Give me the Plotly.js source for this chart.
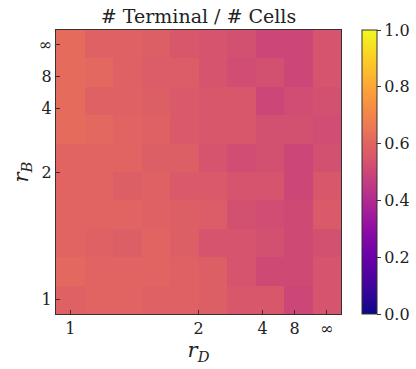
<!DOCTYPE html>
<html>
<head>
<meta charset="utf-8">
<script src="https://cdn.plot.ly/plotly-3.0.1.min.js"></script>
<style>
  body { margin: 0; background: #fff; }
  #chart { width: 416px; height: 369px; }
</style>
</head>
<body>
<div id="chart"></div>
<script>
// grid positions are 1 - 1/r, so r = 1 .. inf in 10 equal steps
const gridPos = [0, 1/9, 2/9, 3/9, 4/9, 5/9, 6/9, 7/9, 8/9, 1];

const tickPos = [0, 0.5, 0.75, 0.875, 1];
const tickLabels = ['1', '2', '4', '8', '∞'];

// fraction terminal, one row per r_B (bottom row first), one value per r_D
const terminalFrac = [
    [0.59, 0.60, 0.60, 0.59, 0.59, 0.58, 0.55, 0.55, 0.50, 0.54],
    [0.61, 0.60, 0.60, 0.60, 0.59, 0.58, 0.54, 0.51, 0.51, 0.54],
    [0.60, 0.59, 0.58, 0.60, 0.58, 0.54, 0.54, 0.53, 0.51, 0.53],
    [0.60, 0.60, 0.60, 0.59, 0.58, 0.57, 0.53, 0.52, 0.51, 0.56],
    [0.60, 0.60, 0.58, 0.59, 0.56, 0.56, 0.54, 0.54, 0.50, 0.55],
    [0.60, 0.60, 0.60, 0.58, 0.58, 0.54, 0.52, 0.53, 0.50, 0.53],
    [0.62, 0.61, 0.60, 0.59, 0.56, 0.55, 0.55, 0.53, 0.53, 0.52],
    [0.62, 0.59, 0.59, 0.58, 0.56, 0.55, 0.55, 0.50, 0.52, 0.53],
    [0.62, 0.61, 0.59, 0.57, 0.57, 0.54, 0.52, 0.53, 0.50, 0.54],
    [0.62, 0.59, 0.59, 0.58, 0.55, 0.54, 0.53, 0.50, 0.50, 0.54]
];

// matplotlib plasma, sampled
const plasma = [
    [0.00, '#0d0887'], [0.10, '#41049d'], [0.20, '#6a00a8'], [0.30, '#8f0da4'],
    [0.40, '#b12a90'], [0.45, '#bf3984'], [0.50, '#cc4778'], [0.55, '#d8576b'],
    [0.60, '#e16462'], [0.65, '#eb7655'], [0.70, '#f2844b'], [0.80, '#fca636'],
    [0.90, '#fcce25'], [1.00, '#f0f921']
];

const serif = 'DejaVu Serif';

function makeAxis(title) {
    return {
        title: { text: title, font: { size: 21, family: serif, color: '#222' }, standoff: 4 },
        range: [-1/18, 1 + 1/18],
        tickvals: tickPos,
        ticktext: tickLabels,
        ticks: 'inside',
        ticklen: 4,
        tickcolor: '#333',
        tickfont: { size: 16, family: serif, color: '#222' },
        showline: true,
        linecolor: '#333',
        linewidth: 1,
        mirror: true,
        showgrid: false,
        zeroline: false,
        fixedrange: true
    };
}

const trace = {
    type: 'heatmap',
    x: gridPos,
    y: gridPos,
    z: terminalFrac,
    colorscale: plasma,
    zmin: 0,
    zmax: 1,
    colorbar: {
        x: 1.074,
        xanchor: 'left',
        xpad: 0,
        y: 0.5,
        ypad: 0,
        len: 1,
        lenmode: 'fraction',
        thickness: 15,
        outlinewidth: 1,
        outlinecolor: '#333',
        ticks: 'outside',
        ticklen: 4,
        tickcolor: '#333',
        tickvals: [0, 0.2, 0.4, 0.6, 0.8, 1],
        tickformat: '.1f',
        tickfont: { size: 16, family: serif, color: '#222' }
    }
};

const layout = {
    width: 416,
    height: 369,
    margin: { l: 56, r: 75, t: 30, b: 55, autoexpand: false },
    paper_bgcolor: '#fff',
    plot_bgcolor: '#fff',
    title: {
        text: '# Terminal / # Cells',
        font: { size: 19, family: serif, color: '#222' },
        x: 0.5,
        xref: 'paper',
        y: 1 - 16 / 369,
        yref: 'container',
        yanchor: 'middle'
    },
    xaxis: makeAxis('<i>r</i><sub><i>D</i></sub>'),
    yaxis: makeAxis('<i>r</i><sub><i>B</i></sub>')
};

Plotly.newPlot('chart', [trace], layout, { displayModeBar: false, staticPlot: true });
</script>
</body>
</html>
